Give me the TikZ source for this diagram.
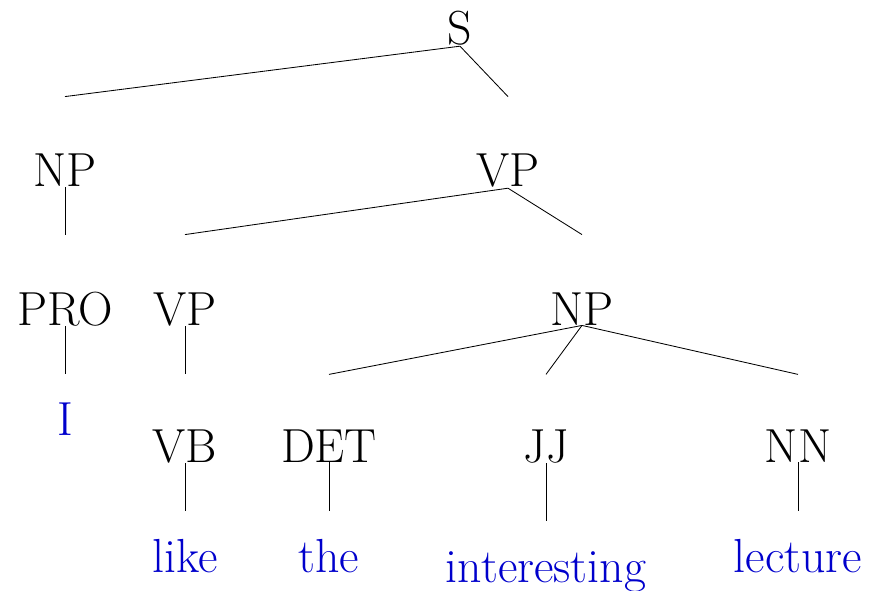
\documentclass[tikz,border=0pt]{standalone}
\definecolor{wordblue}{RGB}{0,0,204}
\tikzset{
  cat/.style={anchor=base, inner sep=0pt, text height=64pt},
  word/.style={anchor=base, inner sep=0pt, text height=43pt, text=wordblue},
}
\begin{document}
\begin{tikzpicture}[x=0.025cm, y=-0.025cm, line width=0.6pt, font=\fontsize{34}{40}\selectfont]
    \useasboundingbox (0,0) rectangle (871,591);
    % categories
    \node[cat, text height=24pt] (s) at (460,45) {S};
    \node[cat] (np1) at (65,187) {NP};
    \node[cat] (vp1) at (508,187) {VP};
    \node[cat] (pro) at (65,325) {PRO};
    \node[cat] (vp2) at (185,325) {VP};
    \node[cat] (np2) at (582,325) {NP};
    \node[cat, text height=62pt] (vb) at (185,462) {VB};
    \node[cat, text height=62pt] (det) at (329,462) {DET};
    \node[cat, text height=62pt] (jj) at (546,462) {JJ};
    \node[cat, text height=62pt] (nn) at (798,462) {NN};
    % words
    \node[word] (i) at (65,435) {I};
    \node[word] (like) at (185,572) {like};
    \node[word] (the) at (329,572) {the};
    \node[word] (interesting) at (546,582) {interesting};
    \node[word] (lecture) at (798,572) {lecture};
    % branches
    \path (s.south) edge (np1.north);
    \path (s.south) edge (vp1.north);
    \path (np1.south) edge (pro.north);
    \path (vp1.south) edge (vp2.north);
    \path (vp1.south) edge (np2.north);
    \path (pro.south) edge (i.north);
    \path (vp2.south) edge (vb.north);
    \path (np2.south) edge (det.north);
    \path (np2.south) edge (jj.north);
    \path (np2.south) edge (nn.north);
    \path (vb.south) edge (like.north);
    \path (det.south) edge (the.north);
    \path (jj.south) edge (interesting.north);
    \path (nn.south) edge (lecture.north);
\end{tikzpicture}
\end{document}
